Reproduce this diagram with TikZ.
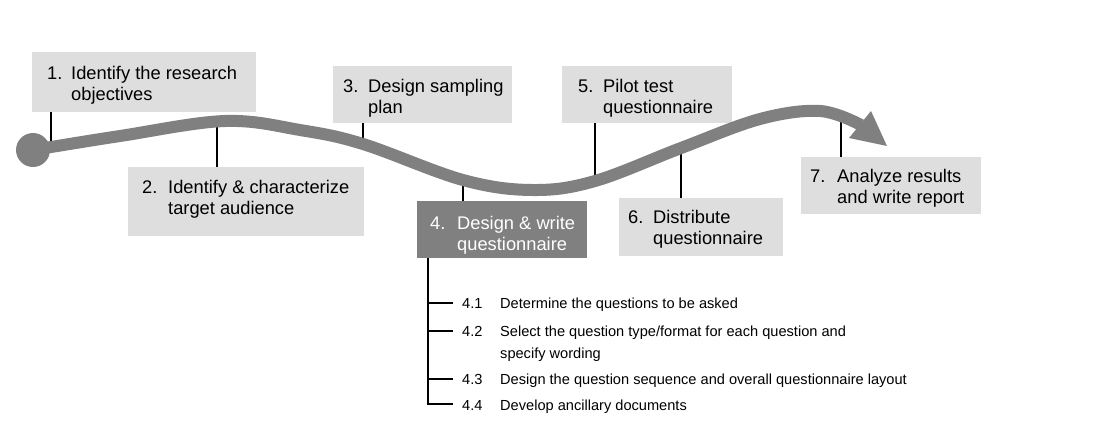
\documentclass[tikz,border=0pt]{standalone}
\usepackage{fontspec}
\setmainfont{Liberation Sans}
\definecolor{boxgray}{RGB}{222,222,222}
\definecolor{stepdark}{RGB}{128,128,128}
\definecolor{curvegray}{RGB}{128,128,128}
\newcommand\numcol[2]{\makebox[#1][l]{#2}}
\begin{document}
\begin{tikzpicture}[x=1pt,y=-1pt,
  stepbox/.style={fill=boxgray, draw=none, anchor=north west, inner sep=0pt},
  darkbox/.style={stepbox, fill=stepdark},
  lbl/.style={anchor=base west, inner sep=0pt, font=\fontsize{18.3}{21}\selectfont, text=black},
  lblw/.style={lbl, text=white},
  item/.style={anchor=base west, inner sep=0pt, font=\fontsize{14.6}{22}\selectfont, text=black},
  conn/.style={draw=black, line width=1.7pt},
  curve/.style={draw=curvegray, line width=12pt}]
\useasboundingbox (0,0) rectangle (1096,421);
% boxes
\node[stepbox, minimum width=224pt, minimum height=60pt] (b1) at (32,52) {};
\node[stepbox, minimum width=236pt, minimum height=69pt] (b2) at (128,167) {};
\node[stepbox, minimum width=179pt, minimum height=57pt] (b3) at (333,66) {};
\node[darkbox, minimum width=170pt, minimum height=57pt] (b4) at (417,201) {};
\node[stepbox, minimum width=170pt, minimum height=57pt] (b5) at (562,66) {};
\node[stepbox, minimum width=164pt, minimum height=58pt] (b6) at (619,198) {};
\node[stepbox, minimum width=180pt, minimum height=57pt] (b7) at (801,157) {};
% points on the curve
\coordinate (c1) at (51,145);
\coordinate (c2) at (217,122);
\coordinate (c3) at (363,144);
\coordinate (c4) at (463,180);
\coordinate (c5) at (595,181);
\coordinate (c6) at (681,148);
\coordinate (c7) at (841,115);
% connectors
\draw[conn] (b1.south -| c1) -- (c1);
\draw[conn] (b2.north -| c2) -- (c2);
\draw[conn] (b3.south -| c3) -- (c3);
\draw[conn] (b4.north -| c4) -- (c4);
\draw[conn] (b5.south -| c5) -- (c5);
\draw[conn] (b6.north -| c6) -- (c6);
\draw[conn] (b7.north -| c7) -- (c7);
% curve
\fill[curvegray] (33,150) circle (17pt);
\draw[curve] plot[smooth, tension=0.6] coordinates {(33,150) (120,136) (225,121) (300,130) (363,144) (463,180) (533,190) (595,181) (681,148) (760,119) (820,111) (861,125)};
\fill[curvegray] (871,111) -- (887,146) -- (849,138) -- cycle;
% box texts
\node[lbl] (t1) at (47,79) {\begin{tabular}[t]{@{}l@{}l@{}}\numcol{24pt}{1.}&Identify the research\\&objectives\end{tabular}};
\node[lbl] (t2) at (142,193) {\begin{tabular}[t]{@{}l@{}l@{}}\numcol{26pt}{2.}&Identify \& characterize\\&target audience\end{tabular}};
\node[lbl] (t3) at (343,92) {\begin{tabular}[t]{@{}l@{}l@{}}\numcol{25pt}{3.}&Design sampling\\&plan\end{tabular}};
\node[lblw] (t4) at (430,229) {\begin{tabular}[t]{@{}l@{}l@{}}\numcol{27pt}{4.}&Design \& write\\&questionnaire\end{tabular}};
\node[lbl] (t5) at (578,92) {\begin{tabular}[t]{@{}l@{}l@{}}\numcol{25pt}{5.}&Pilot test\\&questionnaire\end{tabular}};
\node[lbl] (t6) at (628,223) {\begin{tabular}[t]{@{}l@{}l@{}}\numcol{25pt}{6.}&Distribute\\&questionnaire\end{tabular}};
\node[lbl] (t7) at (810,182) {\begin{tabular}[t]{@{}l@{}l@{}}\numcol{27pt}{7.}&Analyze results\\&and write report\end{tabular}};
% sub-steps
\coordinate (tr) at ([xshift=11pt]b4.south west);
\coordinate (e1) at (453,303);
\coordinate (e2) at (453,331);
\coordinate (e3) at (453,379);
\coordinate (e4) at (453,404);
\draw[conn] (tr) -- (tr |- e4) -- (e4);
\draw[conn] (tr |- e1) -- (e1);
\draw[conn] (tr |- e2) -- (e2);
\draw[conn] (tr |- e3) -- (e3);
\node[item] (s1) at (462,308) {\numcol{38pt}{4.1}Determine the questions to be asked};
\node[item] (s2) at (462,336) {\begin{tabular}[t]{@{}l@{}l@{}}\numcol{38pt}{4.2}&Select the question type/format for each question and\\&specify wording\end{tabular}};
\node[item] (s3) at (462,384) {\numcol{38pt}{4.3}Design the question sequence and overall questionnaire layout};
\node[item] (s4) at (462,410) {\numcol{38pt}{4.4}Develop ancillary documents};
\end{tikzpicture}
\end{document}
